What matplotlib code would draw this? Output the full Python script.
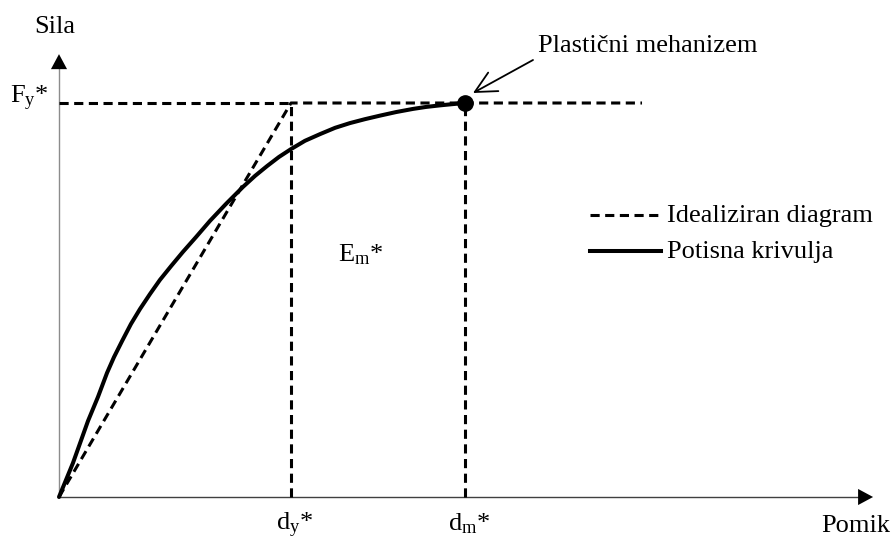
import matplotlib
matplotlib.use("Agg")
import matplotlib.pyplot as plt

plt.rcParams["font.family"] = ["Liberation Serif", "DejaVu Serif"]
plt.rcParams["mathtext.fontset"] = "custom"
plt.rcParams["mathtext.rm"] = "Liberation Serif"
plt.rcParams["mathtext.it"] = "Liberation Serif:italic"

# pushover (capacity) curve, normalised to d_y* = 1 and F_y* = 1
pomik = [0, 0.030, 0.060, 0.091, 0.125, 0.168, 0.207, 0.237, 0.272, 0.310,
         0.349, 0.392, 0.435, 0.483, 0.534, 0.591, 0.651, 0.720, 0.793,
         0.845, 0.897, 0.948, 1.0, 1.060, 1.125, 1.190, 1.254, 1.319, 1.384,
         1.453, 1.526, 1.582, 1.642, 1.694, 1.75]
sila = [0, 0.043, 0.086, 0.137, 0.193, 0.254, 0.315, 0.355, 0.396, 0.439,
        0.477, 0.515, 0.551, 0.586, 0.622, 0.660, 0.701, 0.744, 0.787,
        0.815, 0.840, 0.863, 0.883, 0.904, 0.921, 0.937, 0.949, 0.959, 0.968,
        0.977, 0.985, 0.990, 0.994, 0.997, 1.0]

# idealised elasto-plastic diagram
d_y = 1.0
d_m = 1.75
F_y = 1.0
d_konec = 2.513   # end of the plastic plateau line

# axis extents
x_max = 3.509
y_max = 1.124

# pixel scale of the drawing (px per unit)
SX = 232.0
SY = 394.0
X0 = 59.0
Y0 = 497.0


def px(x, y):
    # figure pixel -> data coordinates
    return (x - X0) / SX, (Y0 - y) / SY


fig = plt.figure(figsize=(8.91, 5.38), dpi=100)
ax = fig.add_axes([0, 0, 1, 1])
ax.set_xlim(-X0 / SX, (891 - X0) / SX)
ax.set_ylim((Y0 - 538) / SY, Y0 / SY)
ax.axis("off")

# axes with arrow heads
ax.plot([0, 0], [0, y_max - 15 / SY], color="#8c8c8c", lw=1.0, zorder=1)
ax.plot([0, x_max - 15 / SX], [0, 0], color="#404040", lw=1.0, zorder=1)
head = dict(arrowstyle="-|>,head_length=1.08,head_width=0.58", color="black",
            lw=0, shrinkA=0, shrinkB=0, mutation_scale=10)
ax.annotate("", xy=(0, y_max), xytext=(0, y_max - 15 / SY), arrowprops=head)
ax.annotate("", xy=(x_max, 0), xytext=(x_max - 15 / SX, 0), arrowprops=head)

dash = (0, (3.0, 1.8))
lw_d = 2.2
lw_s = 2.9

# idealised diagram
ax.plot([0, d_y, d_konec], [0, F_y, F_y], color="black", lw=lw_d, ls=dash,
        zorder=2)
ax.plot([0, d_y], [F_y, F_y], color="black", lw=lw_d, ls=dash, zorder=2)
ax.plot([d_y, d_y], [0, F_y], color="black", lw=lw_d, ls=dash, zorder=2)
ax.plot([d_m, d_m], [0, F_y], color="black", lw=lw_d, ls=dash, zorder=2)

# capacity curve
ax.plot(pomik, sila, color="black", lw=lw_s, solid_capstyle="round",
        solid_joinstyle="round", zorder=3)
ax.plot([d_m], [F_y], "o", color="black", ms=11, zorder=4)

# plastic mechanism pointer
ax.annotate("", xy=px(473, 93), xytext=px(533, 60),
            arrowprops=dict(arrowstyle="->,head_length=0.8,head_width=0.4",
                            color="black", lw=1.3, shrinkA=0, shrinkB=0,
                            mutation_scale=19))
fs = 19
ax.text(*px(538, 52), "Plastični mehanizem", fontsize=fs, ha="left",
        va="baseline")

# axis labels
ax.text(*px(55, 33), "Sila", fontsize=fs, ha="center", va="baseline")
ax.text(*px(890, 532), "Pomik", fontsize=fs, ha="right", va="baseline")
ax.text(*px(49, 103), r"F$_{\mathrm{y}}$*", fontsize=fs, ha="right",
        va="baseline")
ax.text(d_y + 4 / SX, (Y0 - 530) / SY, r"d$_{\mathrm{y}}$*", fontsize=fs,
        ha="center", va="baseline")
ax.text(d_m + 4 / SX, (Y0 - 530) / SY, r"d$_{\mathrm{m}}$*", fontsize=fs,
        ha="center", va="baseline")
ax.text(*px(338, 261), r"E$_{\mathrm{m}}$*", fontsize=fs, ha="left",
        va="baseline")

# legend
for y_px, style, label in [(215, dash, "Idealiziran diagram"),
                           (251, "-", "Potisna krivulja")]:
    x1, y1 = px(590, y_px)
    x2, _ = px(661, y_px)
    ax.plot([x1, x2], [y1, y1], color="black",
            lw=lw_d if style == dash else lw_s, ls=style)
    ax.text(*px(667, y_px + 7), label, fontsize=fs, ha="left", va="baseline")

fig.savefig("out.png", dpi=100)
